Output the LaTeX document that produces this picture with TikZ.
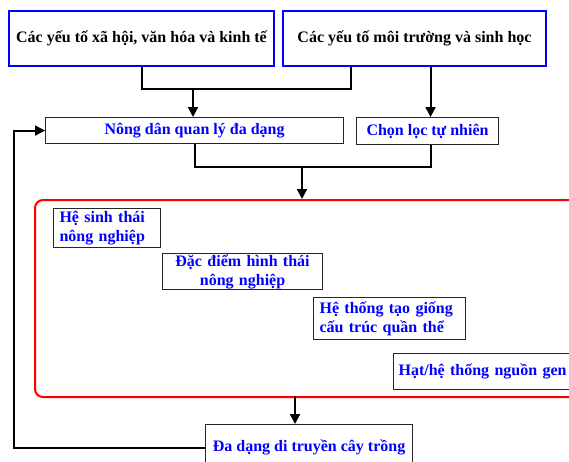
\documentclass[tikz,border=0pt]{standalone}
\usepackage{fontspec}
\setmainfont{Liberation Serif}
\usetikzlibrary{arrows.meta,calc}
\definecolor{pureblue}{RGB}{0,0,255}
\definecolor{purered}{RGB}{255,0,0}
\begin{document}
\begin{tikzpicture}[x=1pt,y=-1pt,
  font=\fontsize{16}{19}\selectfont\bfseries,
  topbox/.style={draw=pureblue,line width=2pt,rectangle,anchor=north west,inner sep=0pt,text=black},
  bluebox/.style={draw=black!85,line width=1.1pt,rectangle,anchor=north west,inner sep=0pt,text=pureblue},
  conn/.style={line width=2pt,black},
  arr/.style={conn,-{Triangle[length=10pt,width=10pt]}}]
\useasboundingbox (0,0) rectangle (569,461);
% top boxes
\node[topbox,minimum width=265pt,minimum height=55pt] (b1) at (8,10) {Các yếu tố xã hội, văn hóa và kinh tế};
\node[topbox,minimum width=263pt,minimum height=55pt] (b2) at (282,10) {Các yếu tố môi trường và sinh học};
% second row
\node[bluebox,minimum width=298pt,minimum height=26pt] (nd) at (45,117) {Nông dân quan lý đa dạng};
\node[bluebox,minimum width=142pt,minimum height=27pt] (cl) at (356,117) {Chọn lọc tự nhiên};
% red container (runs past the right edge)
\node[draw=purered,line width=2pt,rounded corners=8pt,anchor=north west,minimum width=600pt,minimum height=197pt,inner sep=0pt] (red) at (34,199) {};
% inner boxes
\node[bluebox,minimum width=107pt,minimum height=39pt,text width=95pt,inner xsep=6pt,align=left] (hs) at (53,208) {Hệ sinh thái\\nông nghiệp};
\node[bluebox,minimum width=160pt,minimum height=36pt,text width=150pt,inner xsep=5pt,align=center] (dd2) at (162,253) {Đặc điểm hình thái\\nông nghiệp};
\node[bluebox,minimum width=152pt,minimum height=42pt,text width=140pt,inner xsep=6pt,align=left] (ht) at (313,297) {Hệ thống tạo giống\\cấu trúc quần thể};
\node[bluebox,minimum width=300pt,minimum height=36pt,text width=290pt,inner xsep=5pt,align=left] (hat) at (393,353) {Hạt/hệ thống nguồn gen};
% bottom box (runs past the bottom edge)
\node[bluebox,minimum width=207pt,minimum height=46pt] (dd) at (205,424) {Đa dạng di truyền cây trồng};
% connectors
\coordinate (j1) at (193,89);
\coordinate (j2) at (302,167);
\coordinate (j3) at (295,396);
\coordinate (fb) at (14,0);
\draw[conn] ([xshift=0.5pt]b1.south) |- (j1) -| ([xshift=-63.5pt]b2.south);
\draw[arr] (j1) -- (j1 |- nd.north);
\draw[arr] ([xshift=3pt]cl.north |- b2.south) -- ([xshift=3pt]cl.north);
\draw[conn] (nd.south) |- (j2) -| ([xshift=3pt]cl.south);
\draw[arr] (j2) -- (j2 |- red.north);
\draw[arr] (j3) -- (j3 |- dd.north);
\draw[arr] (dd.west) -| (fb |- nd.west) -- (nd.west);
\end{tikzpicture}
\end{document}
